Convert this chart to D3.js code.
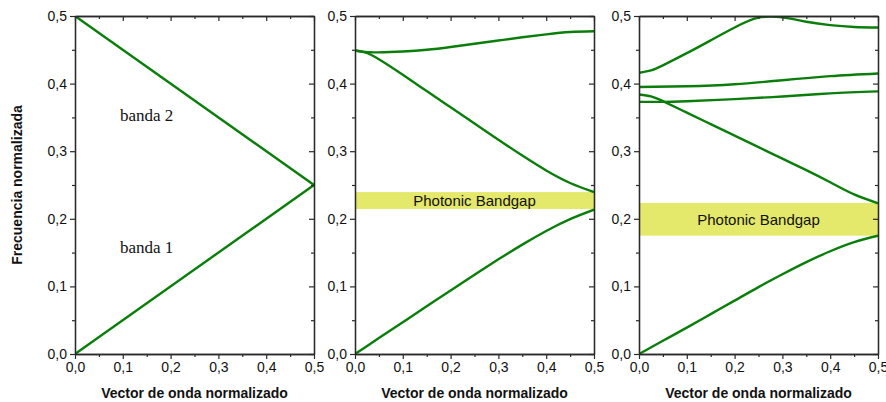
<!DOCTYPE html>
<html><head><meta charset="utf-8">
<script src="https://cdn.jsdelivr.net/npm/d3@7"></script>
<style>body{margin:0;background:#fff}svg{display:block}</style>
</head><body><svg id="c" width="886" height="402"></svg>
<script>
// ---- data ----
const xTicks = [0, 0.1, 0.2, 0.3, 0.4, 0.5];
const yTicks = [0, 0.1, 0.2, 0.3, 0.4, 0.5];
const minorTicks = [0.05, 0.15, 0.25, 0.35, 0.45];
const yTitle = "Frecuencia normalizada";
const xTitle = "Vector de onda normalizado";

// Panel 1: free-space folded bands
const p1Band1 = [[0, 0], [0.5, 0.25]];
const p1Band2 = [[0, 0.5], [0.5, 0.25]];
const p1Labels = [{text: "banda 2", k: 0.094, f: 0.345}, {text: "banda 1", k: 0.094, f: 0.150}];

// Panel 2
const p2Band1 = [[0,0],[0.05,0.0235],[0.1,0.047],[0.15,0.0705],[0.2,0.094],[0.25,0.1172],[0.3,0.1400],[0.35,0.1618],[0.4,0.1820],[0.45,0.1995],[0.5,0.2135]];
const p2Band2 = [[0,0.449],[0.02,0.4465],[0.05,0.436],[0.1,0.413],[0.15,0.389],[0.2,0.365],[0.25,0.341],[0.3,0.317],[0.35,0.2935],[0.4,0.2715],[0.45,0.253],[0.5,0.2395]];
const p2Band3 = [[0,0.449],[0.02,0.4467],[0.05,0.4462],[0.1,0.4475],[0.15,0.450],[0.2,0.4542],[0.25,0.459],[0.3,0.4637],[0.35,0.4685],[0.4,0.4728],[0.45,0.4763],[0.5,0.4775]];
const p2Gap = [0.2145, 0.2395];

// Panel 3
const p3Band1 = [[0,0],[0.05,0.0195],[0.1,0.039],[0.15,0.059],[0.2,0.079],[0.25,0.099],[0.3,0.118],[0.35,0.136],[0.4,0.152],[0.45,0.1655],[0.5,0.175]];
const p3Band2 = [[0,0.384],[0.025,0.381],[0.05,0.374],[0.1,0.357],[0.15,0.340],[0.2,0.323],[0.25,0.306],[0.3,0.289],[0.35,0.272],[0.4,0.254],[0.45,0.236],[0.5,0.223]];
const p3Band3 = [[0,0.373],[0.05,0.373],[0.1,0.374],[0.2,0.377],[0.3,0.381],[0.4,0.3855],[0.5,0.3885]];
const p3Band4 = [[0,0.395],[0.1,0.396],[0.2,0.399],[0.3,0.405],[0.4,0.411],[0.5,0.415]];
const p3Band5 = [[0,0.416],[0.025,0.4195],[0.05,0.427],[0.1,0.445],[0.15,0.464],[0.2,0.483],[0.25,0.4975],[0.3,0.498],[0.35,0.4915],[0.4,0.4865],[0.45,0.4838],[0.5,0.483]];
const p3Gap = [0.175, 0.2235];
const gapLabel = "Photonic Bandgap";

// ---- layout ----
const svg = d3.select("#c");
const yTopPx = 16, yBotPx = 354;
const panels = [
  {left: 75, right: 314, bands: [p1Band1, p1Band2], linear: true, labels: p1Labels},
  {left: 355, right: 594, bands: [p2Band1, p2Band2, p2Band3], gap: p2Gap},
  {left: 639, right: 878, bands: [p3Band1, p3Band2, p3Band3, p3Band4, p3Band5], gap: p3Gap}
];
const green = "#0a7e0a";
const axisColor = "#2a2a2a";
const fmt = d => d3.format(".1f")(d).replace(".", ",");

const defs = svg.append("defs");

panels.forEach((p, i) => {
  const x = d3.scaleLinear().domain([0, 0.5]).range([p.left, p.right]);
  const y = d3.scaleLinear().domain([0, 0.5]).range([yBotPx, yTopPx]);
  const g = svg.append("g");

  defs.append("clipPath").attr("id", "clip" + i).append("rect")
    .attr("x", p.left).attr("y", yTopPx).attr("width", p.right - p.left).attr("height", yBotPx - yTopPx);

  if (p.gap) {
    g.append("rect").attr("x", x(0)).attr("width", x(0.5) - x(0))
      .attr("y", y(p.gap[1])).attr("height", y(p.gap[0]) - y(p.gap[1]))
      .attr("fill", "#e4e86b");
    g.append("text").attr("x", (x(0) + x(0.5)) / 2).attr("y", (y(p.gap[0]) + y(p.gap[1])) / 2)
      .attr("dy", "0.36em").attr("text-anchor", "middle")
      .attr("font-family", "Liberation Sans, Arial, sans-serif").attr("font-size", 15)
      .attr("fill", "#111").text(gapLabel);
  }

  const line = d3.line().x(d => x(d[0])).y(d => y(d[1]))
    .curve(p.linear ? d3.curveLinear : d3.curveNatural);
  const cg = g.append("g").attr("clip-path", `url(#clip${i})`);
  p.bands.forEach(b => {
    cg.append("path").attr("d", line(b)).attr("fill", "none")
      .attr("stroke", green).attr("stroke-width", 2.4).attr("stroke-linejoin", "round");
  });

  if (p.labels) {
    p.labels.forEach(l => {
      g.append("text").attr("x", x(l.k)).attr("y", y(l.f))
        .attr("font-family", "Liberation Serif, Times New Roman, serif").attr("font-size", 17)
        .attr("fill", "#111").text(l.text);
    });
  }

  const styleAxis = sel => {
    sel.selectAll("path").attr("stroke", axisColor).attr("stroke-width", 1.3);
    sel.selectAll("line").attr("stroke", axisColor).attr("stroke-width", 1.2);
    sel.selectAll("text").attr("font-family", "Liberation Sans, Arial, sans-serif")
      .attr("font-size", 14).attr("fill", "#111");
  };
  const mk = (axisFn, scale, tr, size, labels, vals) => {
    const a = axisFn(scale).tickValues(vals).tickSizeInner(size).tickSizeOuter(0);
    if (labels) a.tickFormat(fmt).tickPadding(3); else a.tickFormat("");
    g.append("g").attr("transform", tr).call(a).call(styleAxis);
  };
  mk(d3.axisLeft, y, `translate(${p.left},0)`, 5, true, yTicks);
  mk(d3.axisLeft, y, `translate(${p.left},0)`, 3, false, minorTicks);
  mk(d3.axisBottom, x, `translate(0,${yBotPx})`, 5, true, xTicks);
  mk(d3.axisBottom, x, `translate(0,${yBotPx})`, 3, false, minorTicks);
  mk(d3.axisTop, x, `translate(0,${yTopPx})`, -5, false, xTicks);
  mk(d3.axisTop, x, `translate(0,${yTopPx})`, -3, false, minorTicks);
  mk(d3.axisRight, y, `translate(${p.right},0)`, -5, false, yTicks);
  mk(d3.axisRight, y, `translate(${p.right},0)`, -3, false, minorTicks);

  svg.append("text").attr("x", (p.left + p.right) / 2).attr("y", 398)
    .attr("text-anchor", "middle").attr("font-family", "Liberation Sans, Arial, sans-serif")
    .attr("font-weight", "bold").attr("font-size", 14).attr("fill", "#111").text(xTitle);
});

svg.append("text").attr("transform", "translate(22,185) rotate(-90)")
  .attr("text-anchor", "middle").attr("font-family", "Liberation Sans, Arial, sans-serif")
  .attr("font-weight", "bold").attr("font-size", 14).attr("fill", "#111").text(yTitle);
</script></body></html>
